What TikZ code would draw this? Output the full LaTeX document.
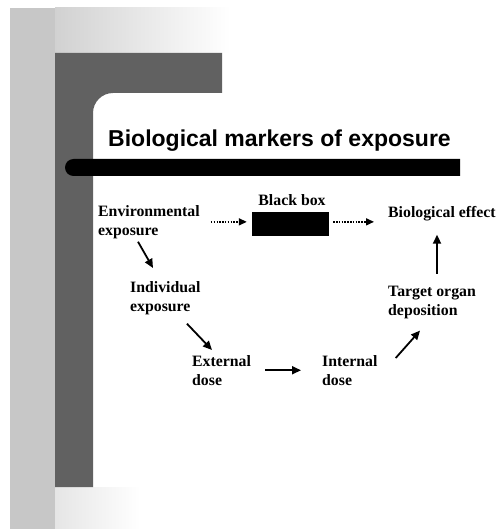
\documentclass[tikz,border=0pt]{standalone}
\usepackage{fontspec}
\setmainfont{Liberation Serif}
\newfontfamily\titlefont{Liberation Sans}
\usetikzlibrary{arrows.meta}

\begin{document}
\begin{tikzpicture}[x=1pt,y=-1pt,
  lbl/.style={anchor=north west,inner sep=0pt,align=left,font=\fontsize{15.8}{19}\selectfont\bfseries},
  arr/.style={line width=1.8pt,-{Triangle[length=9pt,width=8pt]}},
  dotarr/.style={line width=1.5pt,dash pattern=on 1.5pt off 1.3pt,-{Triangle[length=8pt,width=7pt]}}]
\useasboundingbox (0,0) rectangle (501,529);
% frame
\shade[left color=black!18,right color=white] (55,8) rectangle (230,53);
\shade[left color=black!10,right color=white] (55,487) rectangle (140,529);
\fill[black!22] (10,8) rectangle (55,529);
\fill[black!62] (55,53) -- (222,53) -- (222,93) -- (113,93)
  arc[start angle=90,end angle=180,radius=20pt] -- (93,487) -- (55,487) -- cycle;
\fill[black] (460,159) -- (73.5,159) arc[start angle=90,end angle=270,radius=8.5pt] -- (460,176) -- cycle;
\node[anchor=base west,inner sep=0pt,font=\titlefont\fontsize{23}{27}\selectfont\bfseries] (title) at (108,147) {Biological markers of exposure};
% flow
\node[lbl] (env) at (98,205) {Environmental\\exposure};
\node[lbl] (ind) at (130,281) {Individual\\exposure};
\node[lbl] (ext) at (192,355) {External\\dose};
\node[lbl] (int) at (322,355) {Internal\\dose};
\node[lbl] (target) at (388,285.5) {Target organ\\deposition};
\node[lbl,anchor=base west] (effect) at (388,217) {Biological effect};
\node[fill=black,minimum width=77pt,minimum height=24pt,inner sep=0pt] (bbox) at (290.5,224) {};
\node[lbl,anchor=base] (bblabel) at (292,205) {Black box};
\draw[dotarr,shorten <=11pt,shorten >=5pt] (env.east) -- (env.east -| bbox.west);
\draw[dotarr,shorten <=4pt,shorten >=14pt] (bbox.east |- env.east) -- (env.east -| effect.west);
\draw[arr] ([xshift=40pt,yshift=-3pt]env.south west) -- ([xshift=23pt,yshift=13pt]ind.north west);
\draw[arr] ([xshift=57pt,yshift=-9pt]ind.south west) -- ([xshift=20pt,yshift=5pt]ext.north west);
\draw[arr,shorten <=14pt,shorten >=21pt] (ext.east) -- (int.west);
\draw[arr] ([xshift=18pt,yshift=-3pt]int.north east) -- ([xshift=32pt,yshift=-12pt]target.south west);
\draw[arr,shorten <=12pt,shorten >=14pt] ([xshift=5pt]target.north) -- ([xshift=5pt]target.north |- effect.south);
\end{tikzpicture}
\end{document}
